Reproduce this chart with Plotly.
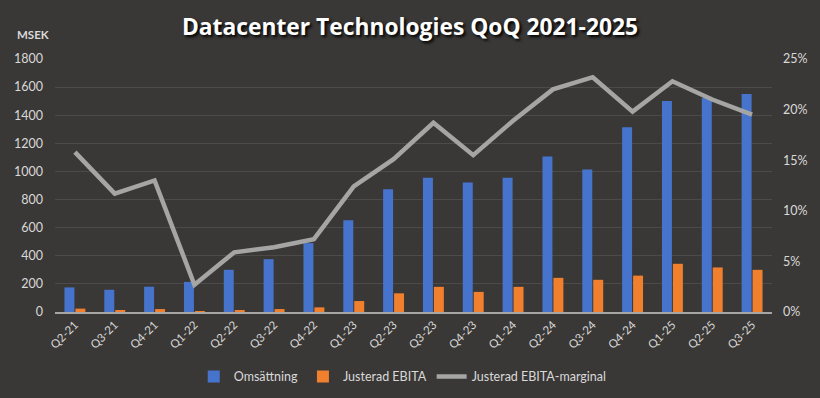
import plotly.graph_objects as go

quarters = ["Q2-21", "Q3-21", "Q4-21", "Q1-22", "Q2-22", "Q3-22", "Q4-22", "Q1-23", "Q2-23",
            "Q3-23", "Q4-23", "Q1-24", "Q2-24", "Q3-24", "Q4-24", "Q1-25", "Q2-25", "Q3-25"]
omsattning = [175, 158, 180, 214, 300, 376, 490, 652, 874,
              955, 921, 955, 1107, 1014, 1314, 1501, 1522, 1551]
ebita = [24, 14, 21, 3, 14, 21, 33, 78, 133,
         179, 143, 179, 243, 229, 259, 343, 317, 300]
marginal = [15.8, 11.7, 13.0, 2.7, 5.9, 6.4, 7.2, 12.4, 15.1,
            18.7, 15.5, 18.9, 22.0, 23.2, 19.8, 22.8, 21.0, 19.5]

bg = "#3a3836"
txt = "#d9d9d9"
grid = "#4d4b49"

fig = go.Figure()
fig.add_trace(go.Bar(x=quarters, y=omsattning, name="Omsättning",
                     marker=dict(color="#4674cc", line=dict(width=0))))
fig.add_trace(go.Bar(x=quarters, y=ebita, name="Justerad EBITA",
                     marker=dict(color="#f07f2e", line=dict(width=0))))
fig.add_trace(go.Scatter(x=quarters, y=[m / 100 for m in marginal], name="Justerad EBITA-marginal",
                         mode="lines", yaxis="y2",
                         line=dict(color="#a5a5a5", width=4.5)))

fig.update_layout(
    width=820, height=398,
    paper_bgcolor=bg, plot_bgcolor=bg,
    margin=dict(l=55, r=48, t=59, b=86, autoexpand=False),
    barmode="group", bargap=0.45, bargroupgap=0.09,
    font=dict(family="Lato, Open Sans, sans-serif", color=txt, size=12),
    title=dict(text="<b>Datacenter Technologies QoQ 2021-2025</b>",
               x=0.5, xanchor="center", y=0.932, yanchor="middle",
               font=dict(family="Open Sans, sans-serif", size=22.8, color="#ffffff",
                         shadow="2px 2px 3px #000000")),
    xaxis=dict(tickangle=-45, showgrid=False, showline=True, linecolor="#a6a6a6",
               linewidth=1.5, tickfont=dict(size=11.5, color=txt), ticks="",
               automargin=False),
    yaxis=dict(range=[0, 1800], dtick=200, showgrid=True, gridcolor=grid, gridwidth=1,
               zeroline=False, tickfont=dict(size=12.5, color=txt), ticks="",
               ticklabelstandoff=11, automargin=False),
    yaxis2=dict(range=[0, 0.25], dtick=0.05, tickformat=".0%", overlaying="y", side="right",
                showgrid=False, zeroline=False, tickfont=dict(size=12.5, color=txt),
                ticklabelstandoff=10, automargin=False),
    legend=dict(orientation="h", x=0.485, xanchor="center", yref="container", y=0.053,
                yanchor="middle", font=dict(size=12.5, color=txt), bgcolor="rgba(0,0,0,0)",
                itemwidth=30, traceorder="normal"),
    annotations=[dict(text="<b>MSEK</b>", xref="paper", yref="paper", x=-0.031, y=1.095,
                      xanchor="center", yanchor="middle", showarrow=False,
                      font=dict(size=11.5, color=txt))],
)

fig.write_html("out.html", config={"displayModeBar": False},
               post_script="document.body.style.margin='0';document.body.style.background='#3a3836';")
